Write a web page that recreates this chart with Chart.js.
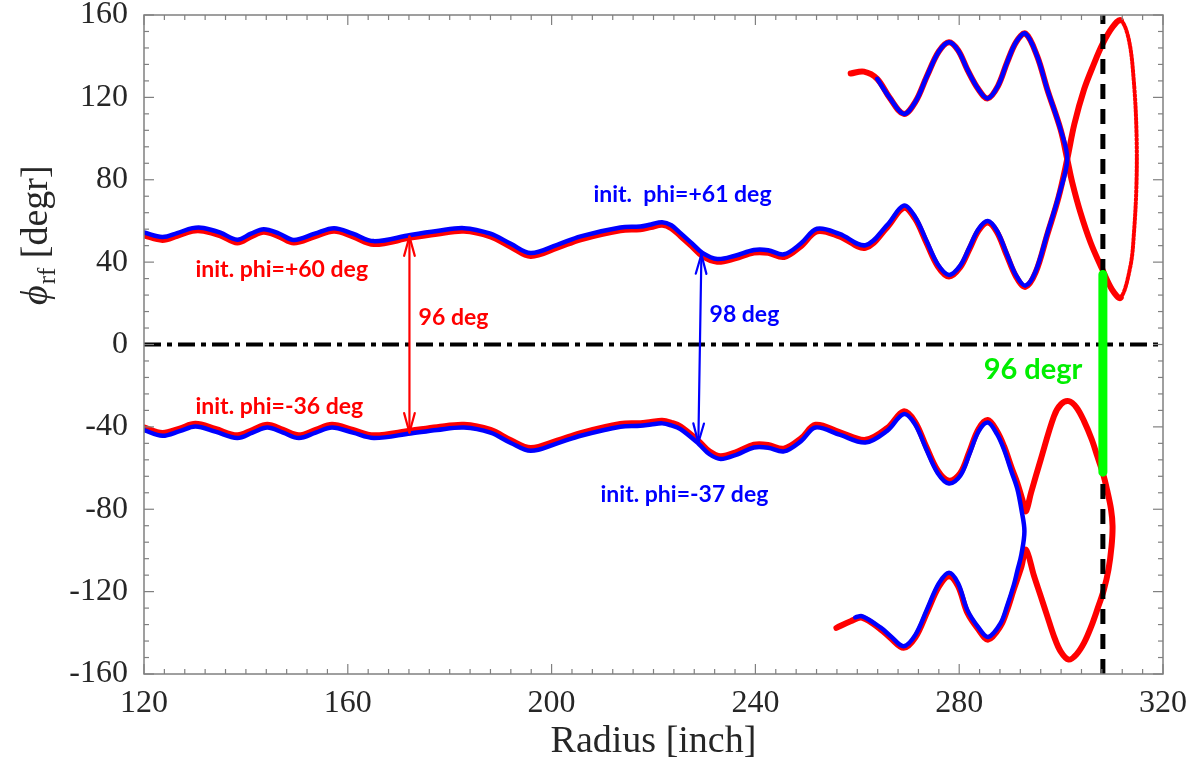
<!DOCTYPE html>
<html>
<head>
<meta charset="utf-8">
<script src="https://cdn.jsdelivr.net/npm/chart.js@4"></script>
<style>
  html, body { margin: 0; padding: 0; background: #ffffff; }
  #wrap { width: 1196px; height: 763px; }
</style>
</head>
<body>
<div id="wrap"><canvas id="chart" width="1196" height="763"></canvas></div>
<script>
// ---------------- axis ticks ----------------
const xTicks = [120, 160, 200, 240, 280, 320];
const yTicks = [-160, -120, -80, -40, 0, 40, 80, 120, 160];

// ---------------- red trajectory, upper branch (init. phi = +60 deg) ----------------
// outgoing arm up to the crossing and on to the top of the outer loop
const redUpperMainR = [120, 123.6, 126.5, 129.5, 131.7, 135, 138.3, 141, 143.5, 146.5, 149.4, 153.5, 157.3, 161, 165.1,
  172.3, 177.5, 182.8, 188, 192, 195.9, 201.1, 205.7, 213.5, 217.4, 219.5, 221.7, 223.5, 225.3, 227.5, 229.6, 232.5,
  236, 239.7, 242.5, 245.6, 248.9, 252.1, 256.5, 261.6, 265.9, 269.1, 271.3, 273.5, 275.8, 278, 280.2, 282, 283.8,
  285.6, 287.4, 289.3, 291.2, 293, 295, 297.3, 299.5, 301.2, 302.6, 304.5, 306.4, 308.1, 310, 311.7];
const redUpperMainPhi = [53.0, 50.8, 52.8, 55.2, 55.2, 53.0, 49.5, 52.5, 54.7, 52.5, 49.5, 52.5, 55.2, 52.5, 48.8,
  51.9, 53.8, 55.2, 52.5, 47.5, 43.0, 47.0, 51.1, 55.5, 56.0, 57.0, 58.1, 56.5, 52.7, 47.8, 43.0, 40.2,
  41.8, 44.6, 44.5, 42.5, 47.7, 55.0, 52.5, 47.0, 57.0, 66.3, 61.2, 49.8, 38.0, 33.0, 37.5, 46.3, 55.3,
  59.2, 54.6, 43.6, 32.8, 28.0, 35.0, 53.5, 71.5, 90.0, 107.0, 123.8, 136.0, 145.7, 153.8, 157.5];
// outer side of the loop (sparse samples)
const redLoopR = [313.3, 314.3, 314.8, 314.8, 314.3, 313.6, 311.7];
const redLoopPhi = [148.0, 127.0, 102.8, 78.5, 54.2, 38.0, 22.7];
// back through the crossing and the returning arm
const redUpperBackR = [310, 308.1, 305.8, 303.8, 302.2, 301.2, 299.9, 297.3, 295.3, 293, 291.2, 289.4, 287.6, 285.6,
  283.8, 281.6, 279.8, 278, 276, 273.7, 271.4, 269.1, 266.3, 263.9, 261.3, 258.7];
const redUpperBackPhi = [26.7, 36.4, 49.4, 64.0, 78.5, 90.0, 104.4, 123.8, 140.0, 151.0, 147.0, 137.0, 125.5, 119.5,
  123.8, 133.5, 142.8, 146.8, 142.3, 130.5, 117.8, 112.0, 120.0, 129.0, 132.5, 131.6];

// ---------------- red trajectory, lower branch (init. phi = -36 deg) ----------------
const redLowerR = [120, 123.6, 127, 130.1, 134, 138.3, 141.3, 144.2, 147.3, 150.4, 153.7, 156.9, 161, 165.1, 172.3,
  177.5, 182.8, 188, 192, 195.9, 201.1, 205.7, 213.5, 217.4, 219.5, 221.7, 223.5, 225.3, 228.9, 231, 233.2, 236.5,
  239.7, 242.5, 245.6, 249, 251.8, 256.5, 261.6, 265.9, 269.1, 271.3, 273.5, 275.8, 278, 280.2, 282, 283.8, 285.6,
  287.4, 288.8, 290.3, 291.4, 292.6, 293.1, 294.1, 296, 298.6, 300, 301.5, 303, 304.5, 306, 307.1, 308.2, 309,
  309.8, 310.1, 309.9, 309.3, 308.4, 307.1, 305.9, 304.5, 303, 301.5, 299.9, 298.6, 297.3, 296, 294.7, 293.1,
  292.2, 290.7, 289.4, 288.1, 285.7, 283.8, 281.6, 279.8, 278, 276, 273.7, 271.4, 269.1, 266.5, 264.6, 261,
  258.7, 255.9];
const redLowerPhi = [-40.3, -43.0, -40.8, -38.5, -41.0, -44.1, -41.5, -39.0, -41.5, -44.1, -41.5, -39.0, -41.5, -44.1, -41.9,
  -40.2, -39.0, -41.5, -46.5, -50.3, -46.7, -43.0, -38.6, -38.2, -37.6, -37.0, -38.0, -39.8, -47.0, -52.0, -54.3, -52.0,
  -48.7, -48.8, -50.6, -45.5, -39.0, -42.5, -46.3, -40.5, -32.5, -37.4, -49.4, -61.3, -66.2, -62.5, -52.0, -41.0, -36.7,
  -42.0, -49.4, -60.0, -67.2, -77.0, -81.0, -72.0, -55.9, -34.8, -29.0, -27.5, -30.5, -37.2, -46.0, -54.2, -62.5, -70.4,
  -80.0, -88.2, -98.0, -109.3, -119.0, -128.7, -137.0, -144.9, -150.5, -153.0, -149.0, -141.7, -132.0, -122.2, -112.5, -99.6,
  -108.0, -119.0, -129.0, -136.8, -143.3, -138.5, -130.3, -117.5, -112.5, -117.6, -130.0, -142.2, -147.3, -142.5, -138.4, -132.7,
  -134.4, -137.6];

// ---------------- blue trajectory, upper branch (init. phi = +61 deg) ----------------
const blueUpperR = [120, 123.6, 126.5, 129.5, 131.7, 135, 138.3, 141, 143.5, 146.5, 149.4, 153.5, 157.3, 161, 165.1,
  172.3, 177.5, 182.8, 188, 192, 195.9, 201.1, 205.7, 213.5, 217.4, 219.5, 221.7, 223.5, 225.3, 227.5, 229.6, 232.5,
  236, 239.7, 242.5, 245.6, 248.9, 252.1, 256.5, 261.6, 265.9, 269.1, 271.3, 273.5, 275.8, 278, 280.2, 282, 283.8,
  285.6, 287.4, 289.3, 291.2, 293, 295, 297.3, 299.5, 301.2, 299.9, 297.3, 295.3, 293, 291.2, 289.4, 287.6, 285.6,
  283.8, 281.6, 279.8, 278, 276, 273.7, 271.4, 269.1, 266.3, 263.9];
const blueUpperPhi = [54.4, 52.2, 54.1, 56.5, 56.6, 54.3, 50.9, 53.8, 56.0, 53.9, 50.8, 53.8, 56.5, 53.8, 50.2,
  53.2, 55.1, 56.5, 53.8, 48.9, 44.4, 48.4, 52.5, 56.8, 57.3, 58.3, 59.4, 57.9, 54.1, 49.2, 44.5, 41.5,
  43.1, 45.9, 45.8, 43.8, 49.0, 56.2, 53.7, 48.2, 58.1, 67.4, 62.2, 50.8, 38.9, 33.8, 38.3, 47.1, 56.1,
  60.0, 55.3, 44.3, 33.4, 28.6, 35.5, 54.0, 72.0, 90.0, 104.4, 123.8, 140.0, 151.0, 147.0, 137.0, 125.5, 119.5,
  123.8, 133.5, 142.8, 146.8, 142.3, 130.5, 117.8, 112.0, 120.0, 129.0];

// ---------------- blue trajectory, lower branch (init. phi = -37 deg) ----------------
const blueLowerR = [120, 123.6, 127, 130.1, 134, 138.3, 141.3, 144.2, 147.3, 150.4, 153.7, 156.9, 161, 165.1, 172.3,
  177.5, 182.8, 188, 192, 195.9, 201.1, 205.7, 213.5, 217.4, 219.5, 221.7, 223.5, 225.3, 228.9, 231, 233.2, 236.5,
  239.7, 242.5, 245.6, 249, 251.8, 256.5, 261.6, 265.9, 269.1, 271.3, 273.5, 275.8, 278, 280.2, 282, 283.8, 285.6,
  287.4, 288.8, 290.3, 291.4, 292.2, 292.8, 292.2, 291.4, 290.7, 289.4, 288.1, 285.7, 283.8, 281.6, 279.8, 278,
  276, 273.7, 271.4, 269.1, 266.5, 264.6, 261, 259.6];
const blueLowerPhi = [-41.6, -44.3, -42.1, -39.8, -42.3, -45.4, -42.8, -40.3, -42.8, -45.4, -42.8, -40.3, -42.8, -45.4, -43.2,
  -41.5, -40.3, -42.8, -47.8, -51.6, -48.0, -44.3, -39.9, -39.5, -38.9, -38.3, -39.3, -41.1, -48.3, -53.3, -55.6, -53.3,
  -50.0, -50.1, -51.9, -46.8, -40.3, -43.8, -47.6, -41.8, -33.8, -38.6, -50.6, -62.5, -67.5, -63.7, -53.2, -42.2, -37.9,
  -43.4, -51.0, -62.0, -70.0, -80.0, -90.7, -102.0, -110.0, -117.0, -127.0, -135.5, -142.0, -137.5, -129.0, -116.0, -110.8,
  -116.0, -128.5, -141.0, -146.5, -141.5, -137.5, -132.0, -132.5];

// ---------------- reference lines and the 96 degr bar ----------------
const zeroLineR = [120, 320];
const zeroLinePhi = [0, 0];
const edgeR = [308.2, 308.2];
const edgePhi = [-160, 160];
const barR = [308.2, 308.2];
const barPhi = [34, -62];

// ---------------- arrows between branches ----------------
const arrowRedR = [172.1, 172.1];
const arrowRedPhi = [52.4, -42.7];
const arrowBlueR = [229.4, 228.8];
const arrowBluePhi = [43.7, -47.7];

// ---------------- labels ----------------
const labelText = ['init. phi=+60 deg', '96 deg', 'init. phi=-36 deg', 'init.  phi=+61 deg', '98 deg', 'init. phi=-37 deg', '96 degr'];
const labelR = [130.1, 173.9, 130.1, 208.2, 231.0, 209.6, 284.8];
const labelPhi = [36.4, 13.1, -30.1, 72.9, 14.6, -72.9, -12.1];
const labelColor = ['#ff0000', '#ff0000', '#ff0000', '#0000ff', '#0000ff', '#0000ff', '#00ee00'];
const labelSize = [23, 23, 23, 23, 23, 23, 29];

const pts = (rs, ps) => rs.map((r, i) => ({ x: r, y: ps[i] }));

const redUpperData = pts(
  redUpperMainR.concat(redLoopR, redUpperBackR),
  redUpperMainPhi.concat(redLoopPhi, redUpperBackPhi)
);
const loopFrom = redUpperMainR.length - 1;
const loopTo = redUpperMainR.length + redLoopR.length - 1;
const inLoop = ctx => ctx.p0DataIndex >= loopFrom && ctx.p1DataIndex <= loopTo;

const RED = '#ff0000', BLUE = '#0000ff', GREEN = '#00ff00';

const curve = (data, color, width, order, extra) => Object.assign({
  data, borderColor: color, borderWidth: width, pointRadius: 0, showLine: true,
  tension: 0.35, fill: false, order, borderCapStyle: 'round', borderJoinStyle: 'round'
}, extra || {});

const datasets = [
  curve(pts(barR, barPhi), GREEN, 9, 0, { tension: 0, borderCapStyle: 'butt' }),
  curve(pts(edgeR, edgePhi), '#000000', 5, 1, { tension: 0, borderDash: [15, 10], borderCapStyle: 'butt' }),
  curve(pts(blueUpperR, blueUpperPhi), BLUE, 4.5, 2),
  curve(pts(blueLowerR, blueLowerPhi), BLUE, 4.5, 2),
  curve(redUpperData, RED, 6, 3, {
    segment: {
      borderDash: ctx => inLoop(ctx) ? [2.5, 1.5] : undefined,
      borderWidth: ctx => inLoop(ctx) ? 4 : undefined
    }
  }),
  curve(pts(redLowerR, redLowerPhi), RED, 6, 3),
  curve(pts(zeroLineR, zeroLinePhi), '#000000', 4, 4, { tension: 0, borderDash: [17, 6, 5, 6], borderCapStyle: 'butt' })
];

// frame, inward ticks, arrows, labels and axis titles
const decor = {
  id: 'decor',
  afterDatasetsDraw(chart) {
    const { ctx, chartArea: a, scales: { x, y } } = chart;
    ctx.save();

    const seg = (x1, y1, x2, y2) => { ctx.beginPath(); ctx.moveTo(x1, y1); ctx.lineTo(x2, y2); ctx.stroke(); };

    // double-headed arrows
    const arrow = (rs, ps, color) => {
      const x1 = x.getPixelForValue(rs[0]), y1 = y.getPixelForValue(ps[0]);
      const x2 = x.getPixelForValue(rs[1]), y2 = y.getPixelForValue(ps[1]);
      ctx.strokeStyle = color; ctx.lineWidth = 2.2; ctx.lineCap = 'round';
      seg(x1, y1, x2, y2);
      const head = (tx, ty, fx, fy) => {
        const ang = Math.atan2(fy - ty, fx - tx), L = 20, w = 0.27;
        seg(tx, ty, tx + L * Math.cos(ang + w), ty + L * Math.sin(ang + w));
        seg(tx, ty, tx + L * Math.cos(ang - w), ty + L * Math.sin(ang - w));
      };
      head(x1, y1, x2, y2);
      head(x2, y2, x1, y1);
    };
    arrow(arrowRedR, arrowRedPhi, RED);
    arrow(arrowBlueR, arrowBluePhi, BLUE);

    // labels
    ctx.textAlign = 'left'; ctx.textBaseline = 'middle';
    labelText.forEach((t, i) => {
      ctx.font = 'bold ' + labelSize[i] + 'px Lato, "Open Sans", sans-serif';
      ctx.fillStyle = labelColor[i];
      ctx.fillText(t, x.getPixelForValue(labelR[i]), y.getPixelForValue(labelPhi[i]));
    });

    // frame
    ctx.strokeStyle = '#808080'; ctx.lineWidth = 1.5; ctx.lineCap = 'butt';
    ctx.strokeRect(a.left, a.top, a.right - a.left, a.bottom - a.top);

    // inward ticks: minor every 4 on x, every 8 on y
    ctx.lineWidth = 1.2;
    for (let v = x.min; v <= x.max + 1e-6; v += 4) {
      const px = x.getPixelForValue(v), len = (Math.abs(v % 40) < 1e-6) ? 10 : 5;
      seg(px, a.bottom, px, a.bottom - len);
      seg(px, a.top, px, a.top + len);
    }
    for (let v = y.min; v <= y.max + 1e-6; v += 8) {
      const py = y.getPixelForValue(v), len = (Math.abs(v % 40) < 1e-6) ? 10 : 5;
      seg(a.left, py, a.left + len, py);
      seg(a.right, py, a.right - len, py);
    }
    ctx.restore();
  },
  afterDraw(chart) {
    const { ctx, chartArea: a } = chart;
    ctx.save();
    ctx.fillStyle = '#262626';
    // x title
    ctx.font = '38px "Liberation Serif", "Times New Roman", serif';
    ctx.textAlign = 'center'; ctx.textBaseline = 'alphabetic';
    ctx.fillText('Radius [inch]', (a.left + a.right) / 2, 752);

    // y title: phi with subscript rf, rotated
    ctx.translate(47, 305);
    ctx.rotate(-Math.PI / 2);
    ctx.textAlign = 'left'; ctx.textBaseline = 'alphabetic';
    let cx = 0;
    ctx.font = 'italic 38px "Liberation Serif", "DejaVu Serif", serif';
    ctx.fillText('\u03D5', cx, 0);
    cx += ctx.measureText('\u03D5').width + 1;
    ctx.font = '25px "Liberation Serif", "Times New Roman", serif';
    ctx.fillText('rf', cx, 8);
    cx += ctx.measureText('rf').width;
    ctx.font = '38px "Liberation Serif", "Times New Roman", serif';
    ctx.fillText(' [degr]', cx, 0);
    ctx.restore();
  }
};

new Chart(document.getElementById('chart'), {
  type: 'scatter',
  data: { datasets },
  options: {
    responsive: false,
    animation: false,
    layout: { padding: { left: 0, right: 33, top: 15, bottom: 0 } },
    plugins: { legend: { display: false }, tooltip: { enabled: false } },
    scales: {
      x: {
        type: 'linear', min: 120, max: 320,
        afterBuildTicks: s => { s.ticks = xTicks.map(v => ({ value: v })); },
        afterFit: s => { s.height = 89; s.paddingLeft = 0; s.paddingRight = 0; },
        grid: { display: false, drawTicks: false, tickLength: 0 },
        border: { display: false },
        ticks: { color: '#262626', padding: 10, maxRotation: 0,
          font: { family: '"Liberation Serif", "Times New Roman", serif', size: 32 } }
      },
      y: {
        type: 'linear', min: -160, max: 160,
        afterBuildTicks: s => { s.ticks = yTicks.map(v => ({ value: v })); },
        afterFit: s => { s.width = 144; s.paddingTop = 0; s.paddingBottom = 0; },
        grid: { display: false, drawTicks: false, tickLength: 0 },
        border: { display: false },
        ticks: { color: '#262626', padding: 16,
          font: { family: '"Liberation Serif", "Times New Roman", serif', size: 32 } }
      }
    }
  },
  plugins: [decor]
});
</script>
</body>
</html>
